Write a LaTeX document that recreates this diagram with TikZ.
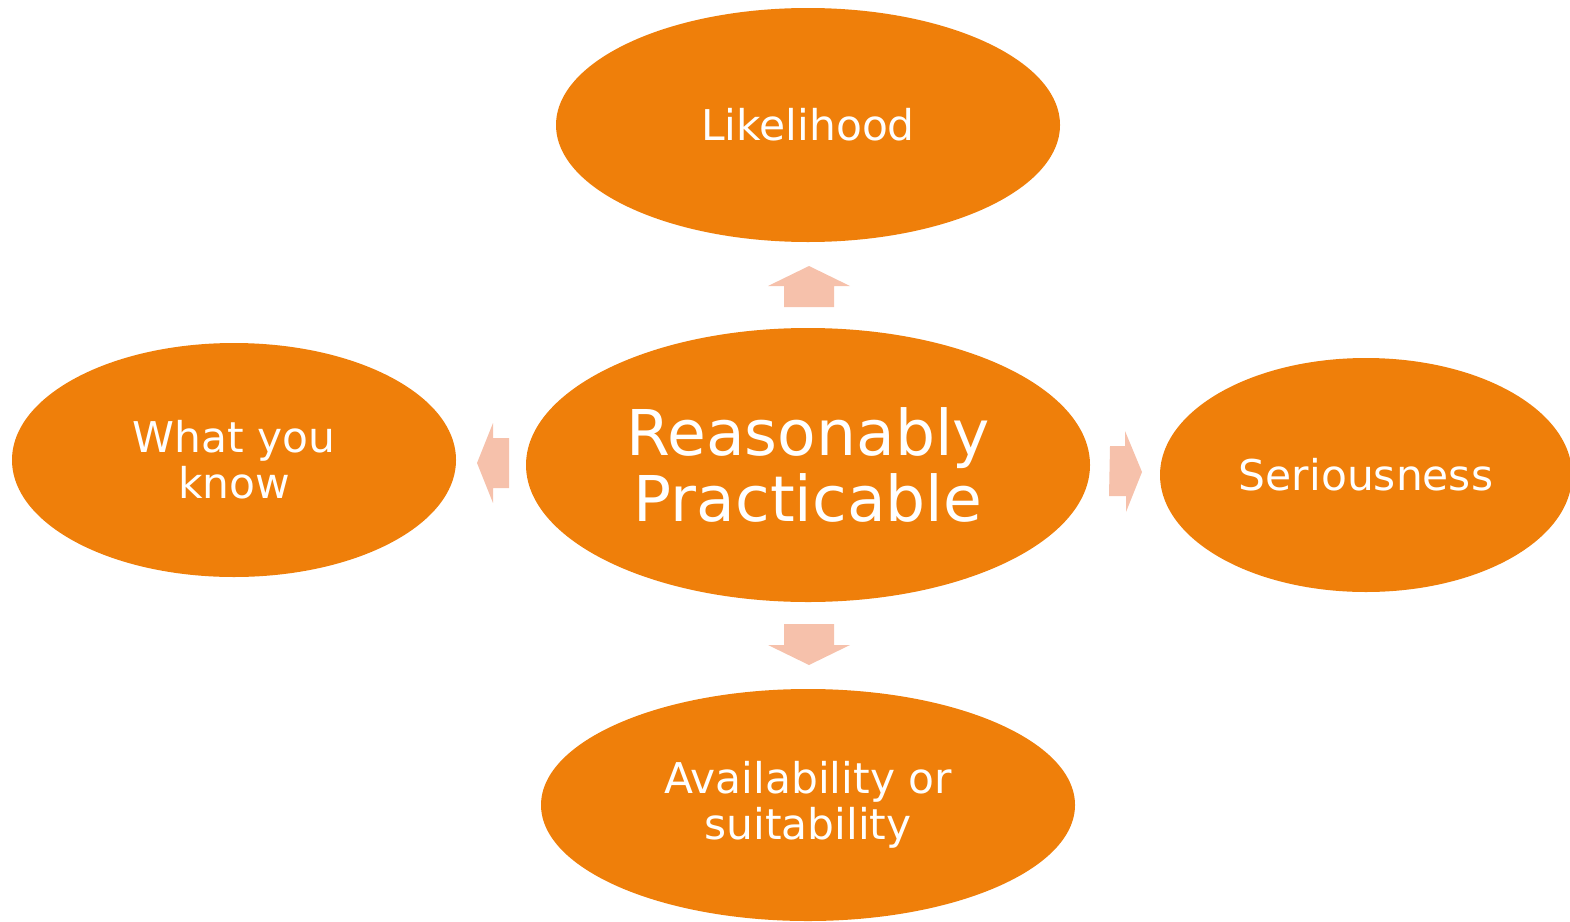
\documentclass[tikz,border=0pt]{standalone}
\usepackage{fontspec}
\setmainfont{DejaVu Sans}
\usetikzlibrary{shapes.geometric}
\definecolor{orng}{HTML}{EF7F0A}
\definecolor{pinkarr}{HTML}{F6C1AB}
\begin{document}
\begin{tikzpicture}[x=0.01cm,y=-0.01cm,
  oval/.style={ellipse,fill=orng,draw=none,inner sep=0pt,text=white,align=center},
  small/.style={font=\fontsize{12.05pt}{13.1pt}\selectfont},
  big/.style={font=\fontsize{17.95pt}{18.6pt}\selectfont},
  blockarrow/.style={fill=pinkarr,draw=none}]
\useasboundingbox (0,0) rectangle (1570,921);
\node[oval,small,minimum width=504*0.01cm,minimum height=234*0.01cm] (top) at (808,125) {Likelihood};
\node[oval,big,minimum width=564*0.01cm,minimum height=274*0.01cm] (mid) at (808,465) {Reasonably\\Practicable};
\node[oval,small,minimum width=444*0.01cm,minimum height=234*0.01cm] (left) at (234,460) {What you\\know};
\node[oval,small,minimum width=412*0.01cm,minimum height=234*0.01cm] (right) at (1366,475) {Seriousness};
\node[oval,small,minimum width=534*0.01cm,minimum height=232*0.01cm] (bot) at (808,805) {Availability or\\suitability};
% block arrows
\coordinate (upA) at (809,266);
\fill[blockarrow] (upA) -- (850,286) -- (834,286) -- (834,307) -- (784,307) -- (784,286) -- (768,286) -- cycle;
\coordinate (dnA) at (809,665);
\fill[blockarrow] (dnA) -- (850,645) -- (834,645) -- (834,624) -- (784,624) -- (784,645) -- (768,645) -- cycle;
\coordinate (lfA) at (477,463);
\fill[blockarrow] (lfA) -- (493,423) -- (493,438) -- (509,438) -- (509,488) -- (493,488) -- (493,503) -- cycle;
\coordinate (rtA) at (1142,472);
\fill[blockarrow] (rtA) -- (1125,431) -- (1125,446) -- (1110,446) -- (1109,496) -- (1126,496) -- (1126,512) -- cycle;
\end{tikzpicture}
\end{document}
